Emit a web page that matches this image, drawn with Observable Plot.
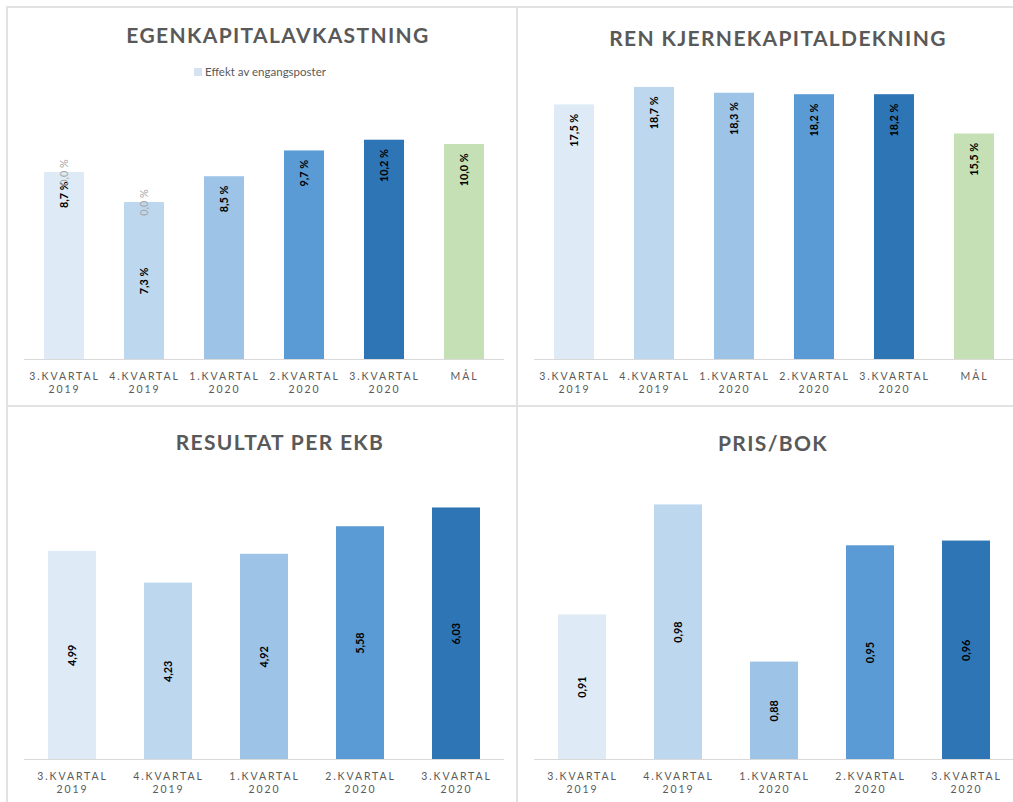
<!DOCTYPE html>
<html>
<head>
<meta charset="utf-8">
<script src="https://cdn.jsdelivr.net/npm/d3@7"></script>
<script src="https://cdn.jsdelivr.net/npm/@observablehq/plot@0.6"></script>
<style>
  body { margin: 0; background: #fff; }
  #root { position: relative; width: 1013px; height: 802px; overflow: hidden; background: #fff; font-family: Lato, sans-serif; }
  .panel { position: absolute; }
  .panel svg { background: transparent !important; overflow: visible; max-width: none !important; }
  .title { position: absolute; font: 700 21px/1 Lato, sans-serif; color: #595959; letter-spacing: 1.35px; white-space: nowrap; transform: translateX(-50%); }
  .legend { position: absolute; font: 400 11.5px/1 Lato, sans-serif; color: #595959; white-space: nowrap; display: flex; align-items: center; }
  .legend .sw { display: inline-block; width: 8px; height: 8px; background: #D6E2F2; margin-right: 3px; }
  .hline { position: absolute; height: 2px; background: #e2e2e2; z-index: 5; }
  .vline { position: absolute; width: 2px; background: #e2e2e2; z-index: 5; }
  [aria-label="x-axis tick label"] text { letter-spacing: 1.9px; }
</style>
</head>
<body>
<div id="root"></div>
<script>
// ---------- data ----------
const quarters = ["3.KVARTAL 2019", "4.KVARTAL 2019", "1.KVARTAL 2020", "2.KVARTAL 2020", "3.KVARTAL 2020"];
const roeCategories = [...quarters, "MÅL"];
const roeValues = [8.7, 7.3, 8.5, 9.7, 10.2, 10.0];          // Egenkapitalavkastning (%)
const oneOffValues = [0.0, 0.0, null, null, null, null];       // Effekt av engangsposter (%)
const cet1Values = [17.5, 18.7, 18.3, 18.2, 18.2, 15.5];      // Ren kjernekapitaldekning (%)
const epsValues = [4.99, 4.23, 4.92, 5.58, 6.03];             // Resultat per EKB
const pbValues = [0.91, 0.98, 0.88, 0.954, 0.957];            // Pris/bok

const titles = ["EGENKAPITALAVKASTNING", "REN KJERNEKAPITALDEKNING", "RESULTAT PER EKB", "PRIS/BOK"];
const legendLabel = "Effekt av engangsposter";

// ---------- styles ----------
const barColors = ["#DEEBF7", "#BDD7EE", "#9DC3E6", "#5B9BD5", "#2E75B6", "#C5E0B4"];
const oneOffColor = "#D6E2F2";
const textGray = "#595959";

const comma = s => s.replace(".", ",");
const fmtPct = v => comma(d3.format(".1f")(v)) + " %";
const fmt2 = v => comma(d3.format(".2f")(v));

const root = document.getElementById("root");

function rows(cats, vals, extra) {
  return cats.map((c, i) => ({cat: c, v: vals[i], i, extra: extra ? extra[i] : null}));
}

function baseOpts(cats, w, h, m, domain) {
  return {
    width: w, height: h,
    marginLeft: m[0], marginRight: m[1], marginTop: m[2], marginBottom: m[3],
    style: {fontFamily: "Lato, sans-serif", background: "transparent", overflow: "visible"},
    x: {domain: cats, type: "band", paddingInner: 0.5, paddingOuter: 0.25, axis: null},
    y: {domain, axis: null},
    color: {domain: [...quarters, "MÅL"], range: barColors}
  };
}

function xAxis() {
  return Plot.axisX({
    tickSize: 0, tickPadding: 11, fontSize: 10.5, fill: textGray, lineHeight: 1.27,
    tickFormat: d => d.replace(" ", "\n"), label: null
  });
}

function place(svg, left, top) {
  const d = document.createElement("div");
  d.className = "panel";
  d.style.left = left + "px"; d.style.top = top + "px";
  d.appendChild(svg);
  root.appendChild(d);
}

function addTitle(text, cx, top) {
  const t = document.createElement("div");
  t.className = "title"; t.textContent = text;
  t.style.left = cx + "px"; t.style.top = top + "px";
  root.appendChild(t);
}

const labelStyle = {rotate: -90, fontWeight: "bold", fontSize: 10.8, fill: "#000"};

// ---------- Panel 1: Egenkapitalavkastning ----------
{
  const data = rows(roeCategories, roeValues, oneOffValues);
  const withOneOff = data.filter(d => d.extra != null);
  const centered = [1]; // label placed in the middle of the bar
  const p = Plot.plot({
    ...baseOpts(roeCategories, 510, 405, [24, 6, 58, 46], [0, 14]),
    marks: [
      Plot.barY(data, {x: "cat", y: "v", fill: "cat"}),
      Plot.barY(withOneOff, {x: "cat", y1: "v", y2: d => d.v + d.extra, fill: oneOffColor}),
      Plot.ruleY([0], {stroke: "#d9d9d9", strokeWidth: 1}),
      Plot.text(data.filter(d => !centered.includes(d.i)), {x: "cat", y: "v", text: d => fmtPct(d.v), textAnchor: "end", dy: 9, ...labelStyle}),
      Plot.text(data.filter(d => centered.includes(d.i)), {x: "cat", y: d => d.v / 2, text: d => fmtPct(d.v), textAnchor: "middle", ...labelStyle}),
      Plot.text(withOneOff, {x: "cat", y: d => d.v + d.extra, text: d => fmtPct(d.extra), rotate: -90, fontSize: 10.8, fill: "#a6a6a6"}),
      xAxis()
    ]
  });
  place(p, 0, 0);
  addTitle(titles[0], 278, 24);
  const lg = document.createElement("div");
  lg.className = "legend";
  lg.style.left = "194px"; lg.style.top = "66px";
  lg.innerHTML = '<span class="sw"></span><span></span>';
  lg.lastChild.textContent = legendLabel;
  root.appendChild(lg);
}

// ---------- Panel 2: Ren kjernekapitaldekning ----------
{
  const data = rows(roeCategories, cet1Values);
  const p = Plot.plot({
    ...baseOpts(roeCategories, 504, 405, [24, 0, 68, 46], [0, 20]),
    marks: [
      Plot.barY(data, {x: "cat", y: "v", fill: "cat"}),
      Plot.ruleY([0], {stroke: "#d9d9d9", strokeWidth: 1}),
      Plot.text(data, {x: "cat", y: "v", text: d => fmtPct(d.v), textAnchor: "end", dy: 9, ...labelStyle}),
      xAxis()
    ]
  });
  place(p, 510, 0);
  addTitle(titles[1], 778, 27);
}

// ---------- Panel 3: Resultat per EKB ----------
{
  const data = rows(quarters, epsValues);
  const p = Plot.plot({
    ...baseOpts(quarters, 510, 397, [24, 6, 62, 43], [0, 7]),
    marks: [
      Plot.barY(data, {x: "cat", y: "v", fill: "cat"}),
      Plot.ruleY([0], {stroke: "#d9d9d9", strokeWidth: 1}),
      Plot.text(data, {x: "cat", y: d => d.v / 2, text: d => fmt2(d.v), textAnchor: "middle", ...labelStyle}),
      xAxis()
    ]
  });
  place(p, 0, 405);
  addTitle(titles[2], 280, 431);
}

// ---------- Panel 4: Pris/bok ----------
{
  const data = rows(quarters, pbValues);
  const yMin = 0.818;
  const p = Plot.plot({
    ...baseOpts(quarters, 504, 397, [24, 0, 68, 43], [yMin, 1.0]),
    marks: [
      Plot.barY(data, {x: "cat", y1: yMin, y2: "v", fill: "cat"}),
      Plot.ruleY([yMin], {stroke: "#d9d9d9", strokeWidth: 1}),
      Plot.text(data, {x: "cat", y: d => (yMin + d.v) / 2, text: d => fmt2(d.v), textAnchor: "middle", ...labelStyle}),
      xAxis()
    ]
  });
  place(p, 510, 405);
  addTitle(titles[3], 773, 432);
}

// ---------- chart frames ----------
function line(cls, l, t, len) {
  const d = document.createElement("div");
  d.className = cls;
  d.style.left = l + "px"; d.style.top = t + "px";
  if (cls === "hline") d.style.width = len + "px"; else d.style.height = len + "px";
  root.appendChild(d);
}
line("hline", 6, 6, 1013);
line("hline", 6, 405, 1013);
line("vline", 6, 6, 802);
line("vline", 516, 6, 802);
</script>
</body>
</html>
